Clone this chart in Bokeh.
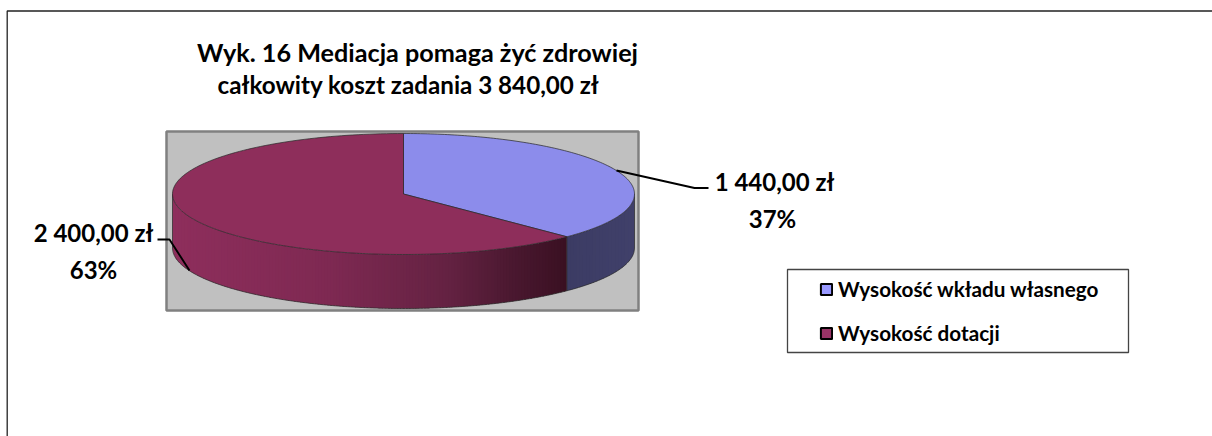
import numpy as np
from bokeh.core.properties import value
from bokeh.embed import file_html
from bokeh.models import Legend, LegendItem, Range1d
from bokeh.plotting import figure
from bokeh.resources import INLINE

title_lines = ["Wyk. 16 Mediacja pomaga żyć zdrowiej", "całkowity koszt zadania 3 840,00 zł"]
categories = ["Wysokość wkładu własnego", "Wysokość dotacji"]
amounts = [1440.0, 2400.0]
amount_labels = ["1 440,00 zł", "2 400,00 zł"]
percent_labels = ["37%", "63%"]

FONT = value("Lato")
CX, CY, RX, RY, DEPTH = 403.0, 193.5, 231.0, 60.5, 54.0
TOP_COLORS = ["#8C8CEB", "#8E2E5B"]
SWATCHES = ["#9999FF", "#993366"]

p = figure(width=1212, height=436, output_backend="svg", toolbar_location=None,
           x_range=Range1d(0, 1212), y_range=Range1d(436, 0),
           min_border=0, min_border_left=0, min_border_right=0, min_border_top=0, min_border_bottom=0,
           outline_line_color=None, background_fill_color="white", border_fill_color="white")
p.axis.visible = False
p.grid.visible = False

# outer frame
p.line([6.7, 6.7, 1212], [436, 10.5, 10.5], line_color="#222222", line_width=1.3)

# plot area
p.quad(left=[166], right=[638], top=[131], bottom=[310], fill_color="#C0C0C0", line_color="#808080", line_width=2.5)


def px(t):
    return CX + RX * np.sin(t)


def py(t):
    return CY - RY * np.cos(t)


fractions = np.cumsum([0.0] + amounts) / sum(amounts)
angles = fractions * 2 * np.pi


def lerp_color(stops, f):
    xs = [s[0] for s in stops]
    return "#%02x%02x%02x" % tuple(int(round(np.interp(f, xs, [s[1][i] for s in stops]))) for i in range(3))


RED_STOPS = [(0.0, (142, 46, 92)), (0.4, (126, 41, 82)), (0.7, (100, 34, 66)), (0.88, (72, 23, 46)), (1.0, (58, 16, 34))]
BLUE_STOPS = [(0.0, (60, 60, 100)), (1.0, (64, 64, 106))]

# side wall, drawn in vertical bands
visible = [(max(angles[0], np.pi / 2), min(angles[1], 1.5 * np.pi), BLUE_STOPS),
           (max(angles[1], np.pi / 2), min(angles[2], 1.5 * np.pi), RED_STOPS)]
for t0, t1, stops in visible:
    xa, xb = sorted((px(t0), px(t1)))
    edges = np.linspace(xa, xb, max(2, int((xb - xa) / 3)))
    for a, b in zip(edges[:-1], edges[1:]):
        xs = np.linspace(a, min(b + 1.5, xb), 6)
        ytop = CY + RY * np.sqrt(np.clip(1 - ((xs - CX) / RX) ** 2, 0, 1))
        f = ((a + b) / 2 - xa) / (xb - xa)
        p.patch(np.r_[xs, xs[::-1]], np.r_[ytop, ytop[::-1] + DEPTH], fill_color=lerp_color(stops, f), line_color=None)

# side outlines
ts = np.linspace(np.pi / 2, 1.5 * np.pi, 200)
p.line(px(ts), py(ts) + DEPTH, line_color="#2a2a2a", line_width=0.9, line_alpha=0.8)
p.line([CX - RX, CX - RX], [CY, CY + DEPTH], line_color="#2a2a2a", line_width=0.9, line_alpha=0.8)
p.line([CX + RX, CX + RX], [CY, CY + DEPTH], line_color="#2a2a2a", line_width=0.9, line_alpha=0.8)
p.line([px(angles[1])] * 2, [py(angles[1]), py(angles[1]) + DEPTH], line_color="#2a2a2a", line_width=0.9, line_alpha=0.8)

# top slices
for i, color in enumerate(TOP_COLORS):
    t = np.linspace(angles[i], angles[i + 1], 160)
    p.patch(np.r_[CX, px(t)], np.r_[CY, py(t)], fill_color=color, line_color="#2a2a2a", line_width=0.9, line_alpha=0.8)

# leader lines
p.line([616, 694, 708], [170, 187.5, 187.5], line_color="black", line_width=1.9)
p.line([157, 169, 189], [239, 239, 270], line_color="black", line_width=1.9)

# title
p.text([417], [51], text=title_lines[:1], text_font=FONT, text_font_style="bold", text_font_size="25.2px",
       text_color="black", text_align="center", text_baseline="middle")
p.text([408], [84], text=title_lines[1:], text_font=FONT, text_font_style="bold", text_font_size="24.2px",
       text_color="black", text_align="center", text_baseline="middle")

# data labels
p.text([774, 93], [181, 232], text=amount_labels, text_font=FONT, text_font_style="bold", text_font_size="24px",
       text_color="black", text_align="center", text_baseline="middle")
p.text([772, 93], [218, 269], text=percent_labels, text_font=FONT, text_font_style="bold", text_font_size="24px",
       text_color="black", text_align="center", text_baseline="middle")

# legend box and legend
p.quad(left=[787], right=[1128], top=[269], bottom=[352], fill_color="white", line_color="#444444", line_width=1.3)
items = []
for name, color in zip(categories, SWATCHES):
    r = p.quad(left=[np.nan], right=[np.nan], top=[np.nan], bottom=[np.nan], fill_color=color, line_color="black", line_width=2)
    items.append(LegendItem(label=name, renderers=[r]))
legend = Legend(items=items, location=(819, 436 - 345), orientation="vertical",
                label_text_font="Lato", label_text_font_style="bold", label_text_font_size="20.7px",
                label_text_color="black", label_standoff=5, glyph_width=14, glyph_height=14,
                spacing=20, padding=0, margin=0, border_line_color=None,
                background_fill_alpha=0.0, label_height=24)
p.add_layout(legend, "center")

open("out.html", "w").write(file_html(p, INLINE))
